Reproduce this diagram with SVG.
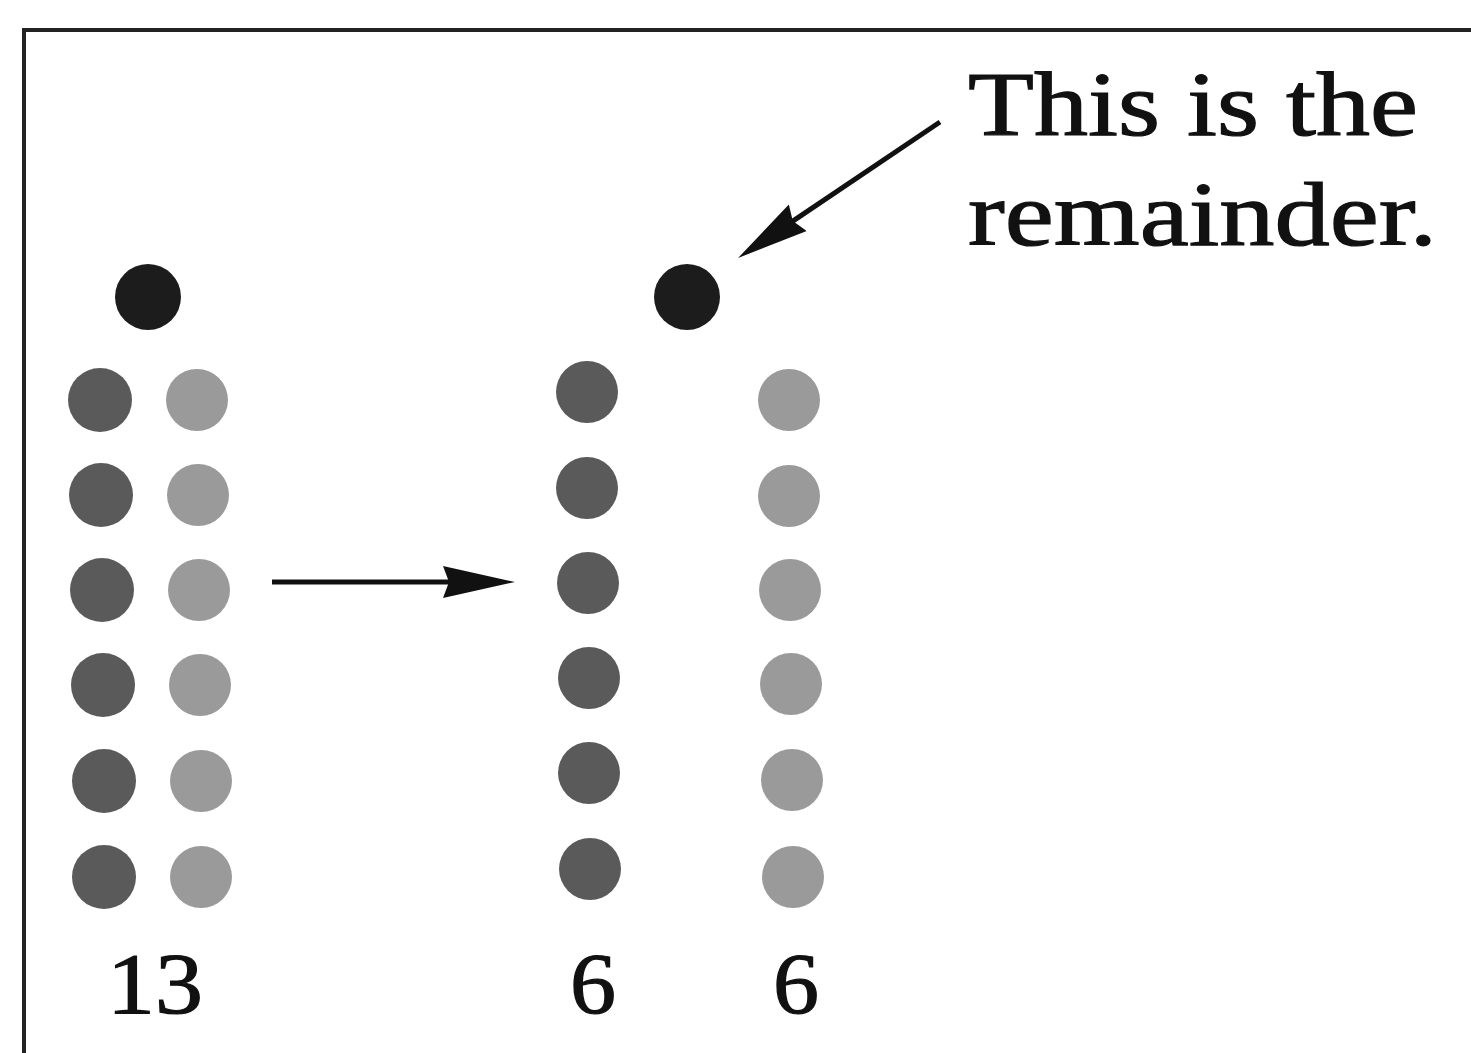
<svg xmlns="http://www.w3.org/2000/svg" width="1471" height="1053" viewBox="0 0 1471 1053">
<style>
.frame{stroke:#222;stroke-width:4;fill:none}
.rem{fill:#1c1c1c}
.d1{fill:#5a5a5a}
.d2{fill:#9a9a9a}
.lbl{font-family:"Liberation Serif","DejaVu Serif",serif;fill:#111;stroke:#111;stroke-width:1.2}
.conn{stroke:#111;stroke-width:5;fill:none}
</style>
<defs>
<marker id="ah" markerWidth="72" markerHeight="36" refX="50" refY="18" orient="auto" markerUnits="userSpaceOnUse" viewBox="0 0 72 36">
<path d="M0,2 L72,18 L0,34 L6,18 Z" fill="#111"/>
</marker>
</defs>
<rect width="1471" height="1053" fill="#fff"/>
<g id="frame"><path class="frame" d="M24,1053 L24,30 L1471,30"/></g>
<g id="left-group">
<circle class="rem" cx="148" cy="297" r="33"/>
<circle class="d1" cx="100" cy="400" r="32"/><circle class="d2" cx="197" cy="400" r="31"/>
<circle class="d1" cx="101" cy="495" r="32"/><circle class="d2" cx="198" cy="495" r="31"/>
<circle class="d1" cx="102" cy="590" r="32"/><circle class="d2" cx="199" cy="590" r="31"/>
<circle class="d1" cx="103" cy="685" r="32"/><circle class="d2" cx="200" cy="685" r="31"/>
<circle class="d1" cx="104" cy="781" r="32"/><circle class="d2" cx="201" cy="781" r="31"/>
<circle class="d1" cx="104" cy="877" r="32"/><circle class="d2" cx="201" cy="877" r="31"/>
</g>
<g id="right-group">
<circle class="rem" cx="687" cy="297" r="33"/>
<circle class="d1" cx="587" cy="392" r="31"/><circle class="d2" cx="789" cy="400" r="31"/>
<circle class="d1" cx="587" cy="488" r="31"/><circle class="d2" cx="789" cy="496" r="31"/>
<circle class="d1" cx="588" cy="583" r="31"/><circle class="d2" cx="790" cy="590" r="31"/>
<circle class="d1" cx="589" cy="678" r="31"/><circle class="d2" cx="791" cy="684" r="31"/>
<circle class="d1" cx="589" cy="773" r="31"/><circle class="d2" cx="792" cy="780" r="31"/>
<circle class="d1" cx="590" cy="869" r="31"/><circle class="d2" cx="793" cy="877" r="31"/>
</g>
<g id="labels">
<text class="lbl" x="968" y="135" font-size="92" textLength="450" lengthAdjust="spacingAndGlyphs">This is the</text>
<text class="lbl" x="968" y="245" font-size="92" textLength="469" lengthAdjust="spacingAndGlyphs">remainder.</text>
<text class="lbl" x="107" y="1013" font-size="86" textLength="96" lengthAdjust="spacingAndGlyphs">13</text>
<text class="lbl" x="570" y="1013" font-size="86" textLength="46" lengthAdjust="spacingAndGlyphs">6</text>
<text class="lbl" x="773" y="1013" font-size="86" textLength="46" lengthAdjust="spacingAndGlyphs">6</text>
</g>
<g id="connectors">
<line class="conn" x1="272" y1="582" x2="493" y2="582" marker-end="url(#ah)"/>
<line class="conn" x1="940" y1="122" x2="756.3" y2="245.7" marker-end="url(#ah)"/>
</g>
</svg>
